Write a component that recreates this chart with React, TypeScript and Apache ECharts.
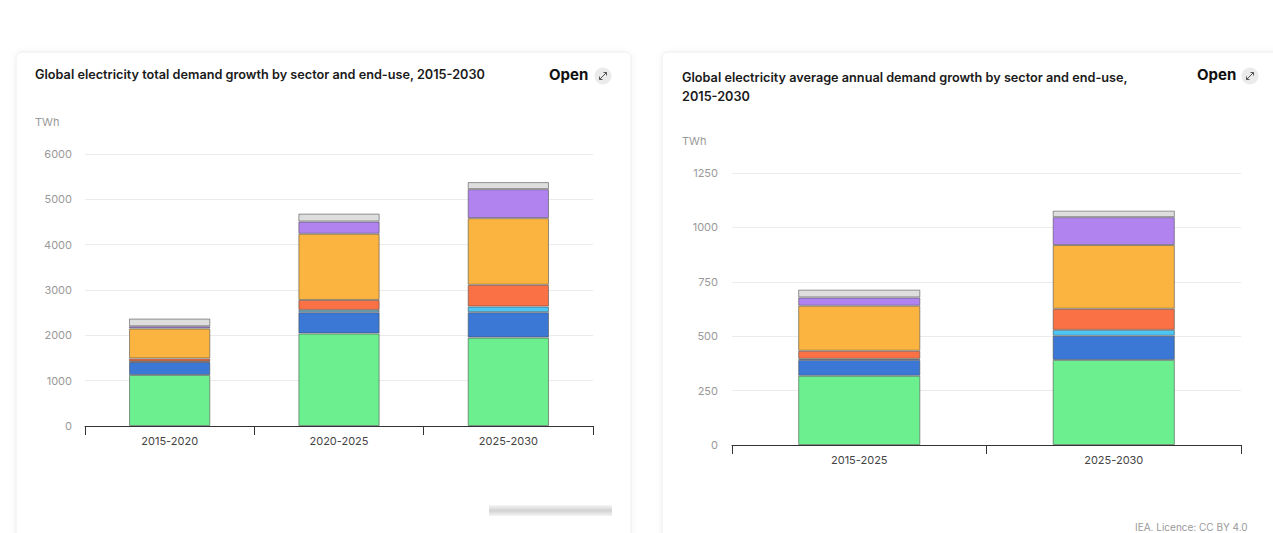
import React, { useEffect, useRef } from "react";
import * as echarts from "echarts";

const leftCategories = ["2015-2020", "2020-2025", "2025-2030"];
const rightCategories = ["2015-2025", "2025-2030"];
const leftTicks = [0, 1000, 2000, 3000, 4000, 5000, 6000];
const rightTicks = [0, 250, 500, 750, 1000, 1250];

const seriesNames = ["Industry", "Appliances", "Data centres", "Space cooling", "Other buildings", "Electric vehicles", "Other"];
const seriesColors = ["#6bef8f", "#3b78d5", "#4cc6f5", "#fb7146", "#fbb43f", "#b083ee", "#dedede"];

// total growth (TWh), per period
const leftIndustry = [1125, 2040, 1950];
const leftAppliances = [285, 470, 560];
const leftDataCentres = [15, 50, 125];
const leftCooling = [65, 220, 480];
const leftBuildings = [660, 1460, 1470];
const leftEV = [50, 270, 640];
const leftOther = [170, 175, 155];

// average annual growth (TWh)
const rightIndustry = [318, 391];
const rightAppliances = [73, 111];
const rightDataCentres = [5, 27];
const rightCooling = [37, 97];
const rightBuildings = [207, 293];
const rightEV = [38, 128];
const rightOther = [36, 30];

const leftData = [leftIndustry, leftAppliances, leftDataCentres, leftCooling, leftBuildings, leftEV, leftOther];
const rightData = [rightIndustry, rightAppliances, rightDataCentres, rightCooling, rightBuildings, rightEV, rightOther];

const FONT = "Inter, 'Noto Sans', sans-serif";

function openButton(xText: number, cx: number, cy: number) {
  return [
    {
      type: "text",
      left: xText,
      top: cy - 9,
      style: { text: "Open", fontSize: 15, fontWeight: 700, fill: "#111", fontFamily: FONT },
    },
    { type: "circle", shape: { cx, cy, r: 8.5 }, style: { fill: "#ebebeb" } },
    { type: "line", shape: { x1: cx - 3.5, y1: cy + 3.5, x2: cx + 3.5, y2: cy - 3.5 }, style: { stroke: "#555", lineWidth: 1 } },
    { type: "polyline", shape: { points: [[cx + 0.5, cy - 3.5], [cx + 3.5, cy - 3.5], [cx + 3.5, cy - 0.5]] }, style: { stroke: "#555", lineWidth: 1, fill: "none" } },
    { type: "polyline", shape: { points: [[cx - 3.5, cy + 0.5], [cx - 3.5, cy + 3.5], [cx - 0.5, cy + 3.5]] }, style: { stroke: "#555", lineWidth: 1, fill: "none" } },
  ];
}

export default function App() {
  const ref = useRef<HTMLDivElement>(null);
  useEffect(() => {
    if (!ref.current) return;
    const chart = echarts.init(ref.current, null, { renderer: "svg" });

    const mkAxisX = (cats: string[], gridIndex: number) => ({
      type: "category",
      gridIndex,
      data: cats,
      axisLine: { lineStyle: { color: "#333", width: 1 } },
      axisTick: { show: true, length: 9, lineStyle: { color: "#333" } },
      axisLabel: { color: "#444", fontSize: 11, margin: 9, fontFamily: FONT },
      splitLine: { show: false },
    });
    const mkAxisY = (ticks: number[], gridIndex: number, margin: number) => ({
      type: "value",
      gridIndex,
      min: ticks[0],
      max: ticks[ticks.length - 1],
      interval: ticks[1] - ticks[0],
      axisLine: { show: false },
      axisTick: { show: false },
      axisLabel: { color: "#999", fontSize: 11, margin, fontFamily: FONT, formatter: (v: number) => String(v) },
      splitLine: { lineStyle: { color: "#ebebeb", width: 1 } },
    });

    const series: any[] = [];
    leftData.forEach((d, i) => {
      series.push({
        type: "bar",
        name: seriesNames[i],
        xAxisIndex: 0,
        yAxisIndex: 0,
        stack: "left",
        barWidth: "48%",
        data: d,
        itemStyle: { color: seriesColors[i], borderColor: "rgba(70,70,70,0.55)", borderWidth: 1 },
      });
    });
    rightData.forEach((d, i) => {
      series.push({
        type: "bar",
        name: seriesNames[i],
        xAxisIndex: 1,
        yAxisIndex: 1,
        stack: "right",
        barWidth: "48%",
        data: d,
        itemStyle: { color: seriesColors[i], borderColor: "rgba(70,70,70,0.55)", borderWidth: 1 },
      });
    });

    const graphic: any[] = [
      {
        type: "rect",
        shape: { x: 16, y: 52, width: 615, height: 500, r: 6 },
        style: { fill: "#fff", stroke: "#ededed", lineWidth: 1, shadowBlur: 6, shadowColor: "rgba(0,0,0,0.05)" },
        z: -10,
      },
      {
        type: "rect",
        shape: { x: 662, y: 52, width: 630, height: 500, r: 6 },
        style: { fill: "#fff", stroke: "#ededed", lineWidth: 1, shadowBlur: 6, shadowColor: "rgba(0,0,0,0.05)" },
        z: -10,
      },
      {
        type: "text",
        left: 35,
        top: 68,
        style: { text: "Global electricity total demand growth by sector and end-use, 2015-2030", fontSize: 12.7, fontWeight: 600, fill: "#1a1a1a", fontFamily: FONT },
      },
      {
        type: "text",
        left: 682,
        top: 68,
        style: {
          text: "Global electricity average annual demand growth by sector and end-use,\n2015-2030",
          fontSize: 12.7,
          lineHeight: 19,
          fontWeight: 600,
          fill: "#1a1a1a",
          fontFamily: FONT,
        },
      },
      ...openButton(549, 603, 76),
      ...openButton(1197, 1250, 76),
      { type: "text", left: 35, top: 116, style: { text: "TWh", fontSize: 11, fill: "#999", fontFamily: FONT } },
      { type: "text", left: 682, top: 135, style: { text: "TWh", fontSize: 11, fill: "#999", fontFamily: FONT } },
      {
        type: "rect",
        shape: { x: 489, y: 505, width: 123, height: 11 },
        style: {
          fill: new echarts.graphic.LinearGradient(0, 0, 0, 1, [
            { offset: 0, color: "#f6f6f6" },
            { offset: 0.5, color: "#d2d2d2" },
            { offset: 1, color: "#f4f4f4" },
          ]),
        },
      },
      { type: "text", left: 1135, top: 522, style: { text: "IEA. Licence: CC BY 4.0", fontSize: 10, fill: "#999", fontFamily: FONT } },
    ];

    chart.setOption({
      animation: false,
      backgroundColor: "#ffffff",
      textStyle: { fontFamily: FONT },
      grid: [
        { left: 85, right: 680, top: 154, bottom: 107, containLabel: false },
        { left: 732, right: 32, top: 173, bottom: 88, containLabel: false },
      ],
      xAxis: [mkAxisX(leftCategories, 0), mkAxisX(rightCategories, 1)],
      yAxis: [mkAxisY(leftTicks, 0, 13), mkAxisY(rightTicks, 1, 14)],
      series,
      graphic,
    });
    return () => chart.dispose();
  }, []);
  return <div ref={ref} style={{ position: "fixed", left: 0, top: 0, width: 1273, height: 533 }} />;
}
